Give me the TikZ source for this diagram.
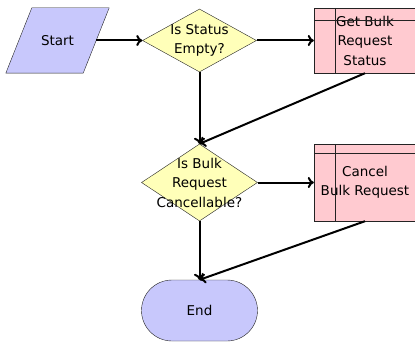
\documentclass[tikz,border=0pt]{standalone}
\usepackage{fontspec}
\setmainfont{DejaVu Sans}
\usetikzlibrary{arrows.meta,positioning,shapes.geometric,shapes.misc,calc}
\definecolor{startblue}{RGB}{200,200,252}
\definecolor{decyellow}{RGB}{255,255,185}
\definecolor{taskpink}{RGB}{255,202,208}
\definecolor{edgegray}{RGB}{35,35,35}

\tikzset{
  lbl/.style={font=\fontsize{13.5}{19.5}\selectfont, align=center, inner sep=0pt},
  decision/.style={diamond, draw=edgegray, fill=decyellow, inner sep=0pt},
  taskbox/.style={rectangle, draw=edgegray, fill=taskpink, inner sep=0pt,
    minimum width=102pt, align=center, font=\fontsize{13.5}{19.5}\selectfont},
  terminal/.style={rounded rectangle, draw=edgegray, fill=startblue, inner sep=0pt,
    minimum width=116pt, minimum height=61pt, font=\fontsize{13.5}{19.5}\selectfont},
  flow/.style={line width=2pt, -{Computer Modern Rightarrow[length=6pt,width=11pt]}},
}

\begin{document}
\begin{tikzpicture}[x=1pt,y=-1pt]
  \useasboundingbox (0,0) rectangle (415,342);
  \clip (0,0) rectangle (415,342);

  % start
  \node[inner sep=0pt, minimum width=77pt, minimum height=65pt] (start) at (57.5,40.5) {};
  \draw[edgegray, fill=startblue] ($(start.south west)+(-13pt,0)$) -- ($(start.north west)+(13pt,0)$)
    -- ($(start.north east)+(13pt,0)$) -- ($(start.south east)+(-13pt,0)$) -- cycle;
  \node[lbl] (starttxt) at (start) {Start};

  % decisions
  \node[decision, minimum width=114pt, minimum height=63pt] (q1) at (199.5,40.5) {};
  \node[lbl] (q1txt) at (q1) {Is Status\\Empty?};
  \node[decision, minimum width=116pt, minimum height=77pt] (q2) at (199.5,182.5) {};
  \node[lbl] (q2txt) at (q2) {Is Bulk\\Request\\Cancellable?};

  % tasks
  \node[taskbox, minimum height=65pt] (getstatus) at (365,40.5) {Get Bulk\\Request\\Status};
  \draw[edgegray] ($(getstatus.north west)+(21pt,0)$) -- ($(getstatus.south west)+(21pt,0)$);
  \draw[edgegray] ($(getstatus.north west)+(0,-12pt)$) -- ($(getstatus.north east)+(0,-12pt)$);
  \node[taskbox, minimum height=77pt] (cancel) at (365,182.5) {Cancel\\Bulk Request};
  \draw[edgegray] ($(cancel.north west)+(21pt,0)$) -- ($(cancel.south west)+(21pt,0)$);
  \draw[edgegray] ($(cancel.north west)+(0,-9pt)$) -- ($(cancel.north east)+(0,-9pt)$);

  % end
  \node[terminal] (end) at (199.5,310.5) {End};

  % connectors
  \draw[flow] (start.east) -- (q1.west);
  \draw[flow] (q1.east) -- (getstatus.west);
  \draw[flow] (q1.south) -- (q2.north);
  \draw[flow] (getstatus.south) -- (q2.north);
  \draw[flow] (q2.east) -- (cancel.west);
  \draw[flow] (q2.south) -- (end.north);
  \draw[flow] (cancel.south) -- (end.north);
\end{tikzpicture}
\end{document}
